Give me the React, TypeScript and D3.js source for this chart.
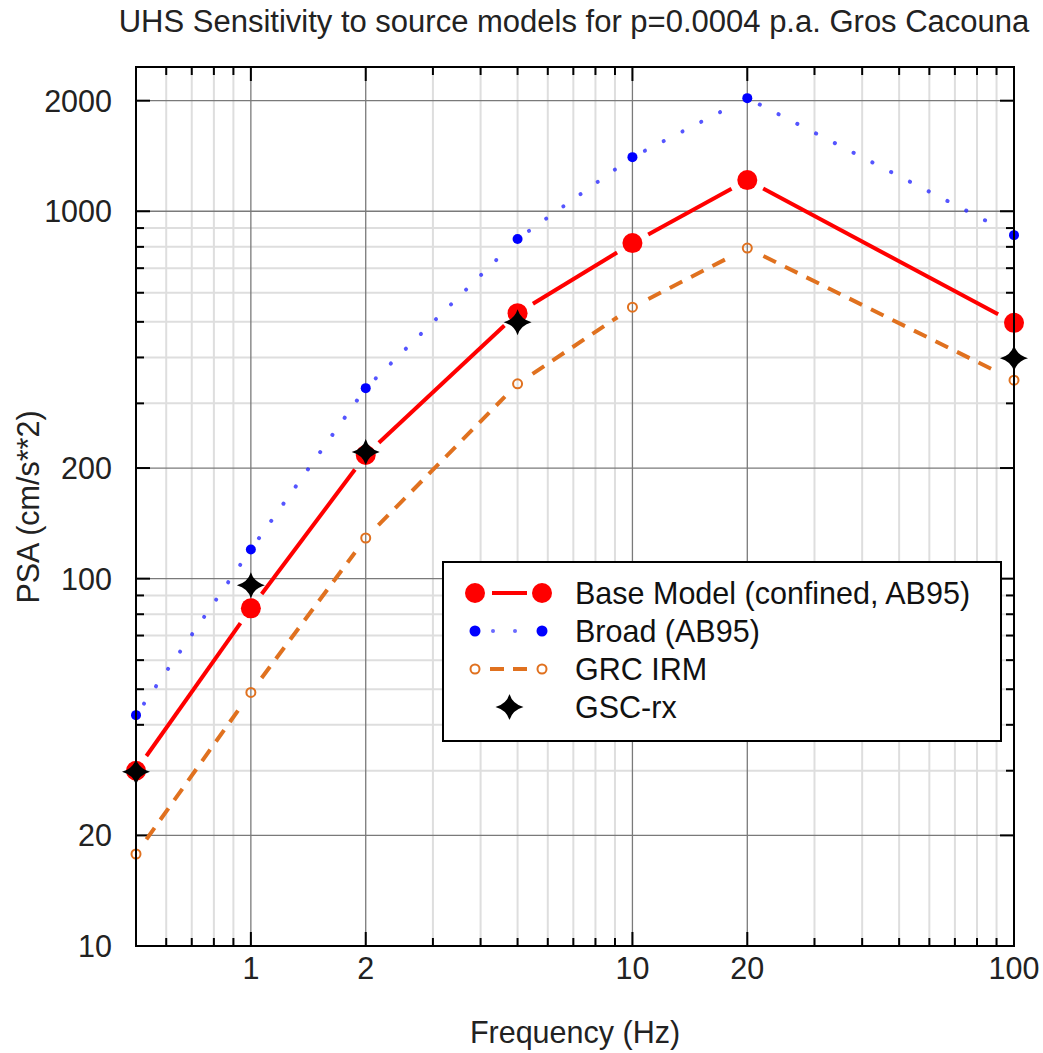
import React from "react";
import * as d3 from "d3";

const freqs = [0.5, 1, 2, 5, 10, 20, 100];
const baseModel = [30, 83, 217, 528, 819, 1216, 497];
const broad = [42.5, 120, 330, 840, 1404, 2032, 861];
const grcIrm = [17.8, 49, 129, 339, 548, 794, 347];
const gscFreqs = [0.5, 1, 2, 5, 100];
const gscRx = [29.8, 96, 221, 499, 398];
const xTickValues = [1, 2, 10, 20, 100];
const yTickValues = [10, 20, 100, 200, 1000, 2000];
const xMajorGrid = [1, 2, 10, 20];
const xMinor = [0.6, 0.7, 0.8, 0.9, 3, 4, 5, 6, 7, 8, 9, 30, 40, 50, 60, 70, 80, 90];
const yMajorGrid = [20, 100, 200, 1000, 2000];
const yMinor = [30, 40, 50, 60, 70, 80, 90, 300, 400, 500, 600, 700, 800, 900];
const legendLabels = ["Base Model (confined, AB95)", "Broad (AB95)", "GRC IRM", "GSC-rx"];
const title = "UHS Sensitivity to source models for p=0.0004 p.a. Gros Cacouna";

const W = 1043, H = 1053;
const L = 136, R = 1014, T = 67, B = 946;
const FONT = "'Liberation Sans', Arial, sans-serif";
const RED = "#ff0000", BLUE = "#0000ff", ORANGE = "#e0711f";

const x = d3.scaleLog().domain([0.5, 100]).range([L, R]);
const y = d3.scaleLog().domain([10, 2470]).range([B, T]);

function gappedSegments(xs: number[], ys: number[], gap: number) {
  const segs: [number, number, number, number][] = [];
  for (let i = 0; i < xs.length - 1; i++) {
    const x0 = x(xs[i]), y0 = y(ys[i]), x1 = x(xs[i + 1]), y1 = y(ys[i + 1]);
    const dx = x1 - x0, dy = y1 - y0;
    const len = Math.hypot(dx, dy);
    if (len <= 2 * gap) continue;
    const ux = dx / len, uy = dy / len;
    segs.push([x0 + ux * gap, y0 + uy * gap, x1 - ux * gap, y1 - uy * gap]);
  }
  return segs;
}

function starPath(cx: number, cy: number, rx: number, ry: number, a: number) {
  return `M${cx},${cy - ry} Q${cx + a},${cy - a} ${cx + rx},${cy} Q${cx + a},${cy + a} ${cx},${cy + ry} Q${cx - a},${cy + a} ${cx - rx},${cy} Q${cx - a},${cy - a} ${cx},${cy - ry} Z`;
}

export default function App() {
  const redSegs = gappedSegments(freqs, baseModel, 18);
  const blueSegs = gappedSegments(freqs, broad, 14);
  const orangeSegs = gappedSegments(freqs, grcIrm, 18);
  const rows = [593, 631, 669, 707];
  const lx0 = 475, lx1 = 542, tx = 575;

  return (
    <svg width={W} height={H} style={{ position: "absolute", left: 0, top: 0, display: "block", background: "#fff" }} fontFamily={FONT}>
      <rect x={0} y={0} width={W} height={H} fill="#fff" />
      <text x={574} y={32} textAnchor="middle" fontSize={31} fill="#222">{title}</text>

      {/* minor grid */}
      {xMinor.map((v) => (
        <line key={"xm" + v} x1={x(v)} x2={x(v)} y1={T} y2={B} stroke="#dedede" strokeWidth={2} />
      ))}
      {yMinor.map((v) => (
        <line key={"ym" + v} x1={L} x2={R} y1={y(v)} y2={y(v)} stroke="#dedede" strokeWidth={2} />
      ))}
      {/* major grid */}
      {xMajorGrid.map((v) => (
        <line key={"xM" + v} x1={x(v)} x2={x(v)} y1={T} y2={B} stroke="#7a7a7a" strokeWidth={1.3} />
      ))}
      {yMajorGrid.map((v) => (
        <line key={"yM" + v} x1={L} x2={R} y1={y(v)} y2={y(v)} stroke="#7a7a7a" strokeWidth={1.3} />
      ))}

      {/* ticks */}
      {xMinor.map((v) => (
        <g key={"xt" + v}>
          <line x1={x(v)} x2={x(v)} y1={B} y2={B - 8} stroke="#000" strokeWidth={2} />
          <line x1={x(v)} x2={x(v)} y1={T} y2={T + 8} stroke="#000" strokeWidth={2} />
        </g>
      ))}
      {xMajorGrid.map((v) => (
        <g key={"xT" + v}>
          <line x1={x(v)} x2={x(v)} y1={B} y2={B - 14} stroke="#000" strokeWidth={2} />
          <line x1={x(v)} x2={x(v)} y1={T} y2={T + 14} stroke="#000" strokeWidth={2} />
        </g>
      ))}
      {yMinor.map((v) => (
        <g key={"yt" + v}>
          <line x1={L} x2={L + 8} y1={y(v)} y2={y(v)} stroke="#000" strokeWidth={2} />
          <line x1={R} x2={R - 8} y1={y(v)} y2={y(v)} stroke="#000" strokeWidth={2} />
        </g>
      ))}
      {yMajorGrid.map((v) => (
        <g key={"yT" + v}>
          <line x1={L} x2={L + 14} y1={y(v)} y2={y(v)} stroke="#000" strokeWidth={2} />
          <line x1={R} x2={R - 14} y1={y(v)} y2={y(v)} stroke="#000" strokeWidth={2} />
        </g>
      ))}

      {/* series lines */}
      {redSegs.map((s, i) => (
        <line key={"rs" + i} x1={s[0]} y1={s[1]} x2={s[2]} y2={s[3]} stroke={RED} strokeWidth={4} />
      ))}
      {blueSegs.map((s, i) => (
        <line key={"bs" + i} x1={s[0]} y1={s[1]} x2={s[2]} y2={s[3]} stroke="#2a2aff" strokeOpacity={0.8} strokeWidth={4} strokeLinecap="round" strokeDasharray="0.1 21" />
      ))}
      {orangeSegs.map((s, i) => (
        <line key={"os" + i} x1={s[0]} y1={s[1]} x2={s[2]} y2={s[3]} stroke={ORANGE} strokeWidth={4} strokeDasharray="14 10" />
      ))}

      {/* markers */}
      {freqs.map((f, i) => (
        <circle key={"rm" + i} cx={x(f)} cy={y(baseModel[i])} r={10} fill={RED} />
      ))}
      {freqs.map((f, i) => (
        <circle key={"bm" + i} cx={x(f)} cy={y(broad[i])} r={5} fill={BLUE} />
      ))}
      {freqs.map((f, i) => (
        <circle key={"om" + i} cx={x(f)} cy={y(grcIrm[i])} r={4.5} fill="none" stroke={ORANGE} strokeWidth={2} />
      ))}
      {gscFreqs.map((f, i) => (
        <path key={"gm" + i} d={starPath(x(f), y(gscRx[i]), 14, 13, 3)} fill="#000" />
      ))}

      {/* frame */}
      <rect x={L} y={T} width={R - L} height={B - T} fill="none" stroke="#000" strokeWidth={2} />

      {/* tick labels */}
      {xTickValues.map((v) => (
        <text key={"xl" + v} x={x(v)} y={979} textAnchor="middle" fontSize={30.5} fill="#222">{v}</text>
      ))}
      {yTickValues.map((v) => (
        <text key={"yl" + v} x={112} y={y(v)} dy="0.36em" textAnchor="end" fontSize={30.5} fill="#222">{v}</text>
      ))}

      {/* axis titles */}
      <text x={575} y={1043} textAnchor="middle" fontSize={30.5} fill="#222">Frequency (Hz)</text>
      <text transform={`translate(28,507) rotate(-90)`} dy="0.36em" textAnchor="middle" fontSize={30.5} fill="#222">PSA (cm/s**2)</text>

      {/* legend */}
      <rect x={443} y={562} width={558} height={179} fill="#fff" stroke="#000" strokeWidth={2} />
      <line x1={492} x2={527} y1={rows[0]} y2={rows[0]} stroke={RED} strokeWidth={4} />
      <circle cx={lx0} cy={rows[0]} r={10} fill={RED} />
      <circle cx={lx1} cy={rows[0]} r={10} fill={RED} />
      <circle cx={lx0} cy={rows[1]} r={5.5} fill={BLUE} />
      <circle cx={lx1} cy={rows[1]} r={5.5} fill={BLUE} />
      <circle cx={493} cy={rows[1]} r={2} fill="#6a6aff" />
      <circle cx={515} cy={rows[1]} r={2} fill="#6a6aff" />
      <circle cx={lx0} cy={rows[2]} r={4.5} fill="none" stroke={ORANGE} strokeWidth={2} />
      <circle cx={lx1} cy={rows[2]} r={4.5} fill="none" stroke={ORANGE} strokeWidth={2} />
      <line x1={490} x2={527} y1={rows[2]} y2={rows[2]} stroke={ORANGE} strokeWidth={4} strokeDasharray="14 9" />
      <path d={starPath((lx0 + lx1) / 2 + 1, rows[3], 14, 13, 3)} fill="#000" />
      {legendLabels.map((t, i) => (
        <text key={"lg" + i} x={tx} y={rows[i]} dy="0.36em" fontSize={30.5} fill="#111">{t}</text>
      ))}
    </svg>
  );
}
